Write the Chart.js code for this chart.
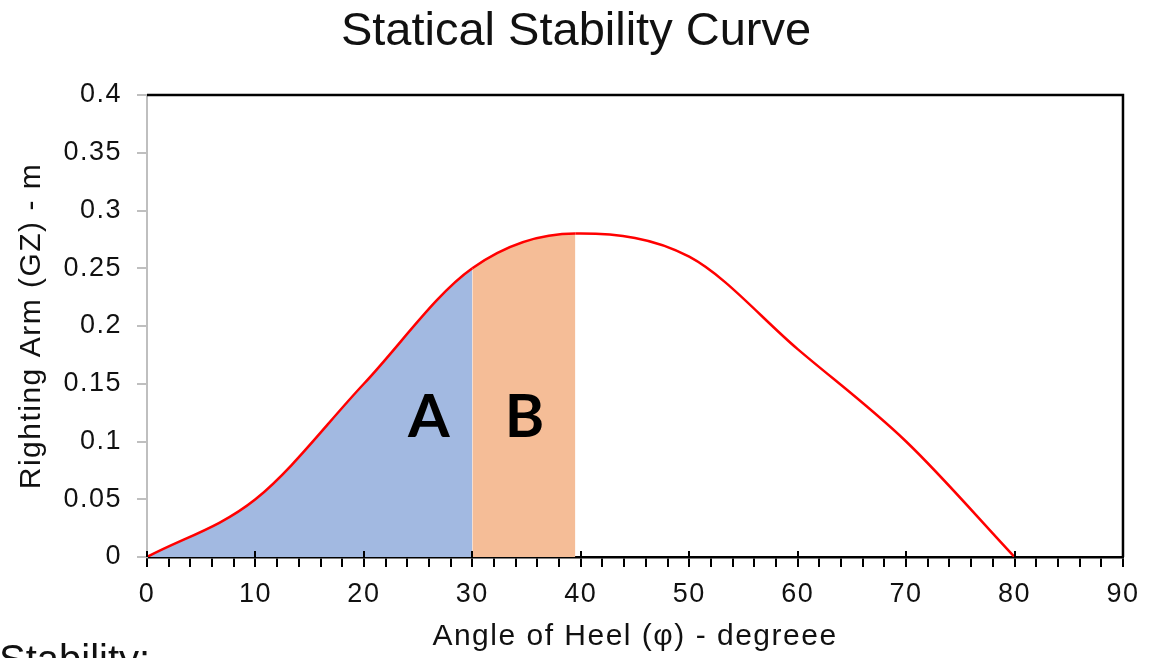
<!DOCTYPE html>
<html>
<head>
<meta charset="utf-8">
<script src="https://cdn.jsdelivr.net/npm/chart.js@4.4.1/dist/chart.umd.min.js"></script>
<style>
html, body { margin: 0; padding: 0; background: #fff; }
#stab { display: block; }
</style>
</head>
<body>
<canvas id="stab" width="1149" height="658"></canvas>
<script>
// values (39.5 is where the orange band stops)
var heelAngle   = [0, 10,   20,   30,   39.5, 40,   50,   60,   70,  80];
var rightingArm = [0, 0.05, 0.15, 0.25, 0.28, 0.28, 0.26, 0.18, 0.1, 0];

// shaded areas under the curve (degrees)
var areaA = [0, 30];
var areaB = [30, 39.5];

var xMajor = [0, 10, 20, 30, 40, 50, 60, 70, 80, 90];
var yTickLabels = ['0', '0.05', '0.1', '0.15', '0.2', '0.25', '0.3', '0.35', '0.4'];

var areaNames = ['A', 'B'];
var areaNameX = [26, 34.8];
var areaNameY = [0.104, 0.104];

var points = heelAngle.map(function (a, i) { return { x: a, y: rightingArm[i] }; });

function shade(ctx) {
    var x0 = ctx.p0.parsed.x;
    if (x0 >= areaA[0] && x0 < areaA[1]) return '#a2b9e1';
    if (x0 >= areaB[0] && x0 < areaB[1]) return '#f5bd97';
    return 'rgba(0,0,0,0)';
}

var extras = {
    id: 'extras',
    beforeDraw: function (chart) {
        // the small labels in the picture are widely spaced
        chart.ctx.letterSpacing = '1.5px';
    },
    afterDatasetsDraw: function (chart) {
        var ctx = chart.ctx, x = chart.scales.x, y = chart.scales.y;
        ctx.save();
        ctx.letterSpacing = '0px';
        ctx.fillStyle = '#000';
        ctx.font = 'bold 60px Lato';
        ctx.textAlign = 'center';
        ctx.textBaseline = 'alphabetic';
        areaNames.forEach(function (n, i) {
            ctx.fillText(n, x.getPixelForValue(areaNameX[i]), y.getPixelForValue(areaNameY[i]));
        });
        ctx.restore();
    },
    afterDraw: function (chart) {
        var ctx = chart.ctx, x = chart.scales.x, a = chart.chartArea;
        ctx.save();
        ctx.letterSpacing = '0px';
        // black frame top and right
        ctx.strokeStyle = '#000';
        ctx.lineWidth = 2.5;
        ctx.beginPath();
        ctx.moveTo(a.left, a.top);
        ctx.lineTo(a.right, a.top);
        ctx.lineTo(a.right, a.bottom);
        ctx.stroke();
        // major ticks poke up through the axis
        ctx.lineWidth = 2;
        xMajor.forEach(function (v) {
            var px = Math.round(x.getPixelForValue(v));
            ctx.beginPath();
            ctx.moveTo(px, a.bottom - 6);
            ctx.lineTo(px, a.bottom);
            ctx.stroke();
        });
        // title
        ctx.fillStyle = '#111';
        ctx.font = '47px "Liberation Sans"';
        ctx.textAlign = 'center';
        ctx.textBaseline = 'alphabetic';
        ctx.fillText('Statical Stability Curve', 576, 45);
        // cut-off caption in the corner
        ctx.textAlign = 'left';
        ctx.font = '40px "Liberation Sans"';
        ctx.fillText('Stability:', -1, 673);
        ctx.restore();
    }
};

new Chart('stab', {
    type: 'line',
    data: {
        datasets: [{
            data: points,
            borderColor: '#ff0000',
            borderWidth: 2.5,
            backgroundColor: 'rgba(0,0,0,0)',
            fill: 'origin',
            pointRadius: 0,
            cubicInterpolationMode: 'monotone',
            segment: { backgroundColor: shade }
        }]
    },
    options: {
        responsive: false,
        animation: false,
        devicePixelRatio: 1,
        layout: { padding: { left: 0, right: 21, top: 95, bottom: 0 } },
        plugins: {
            legend: { display: false },
            tooltip: { enabled: false },
            title: { display: false }
        },
        scales: {
            x: {
                type: 'linear', min: 0, max: 90, z: 1,
                afterFit: function (s) { s.height = 101; },
                border: { display: true, color: '#000', width: 2.5 },
                grid: { drawOnChartArea: false, drawTicks: true, tickLength: 10, color: '#000', lineWidth: 2 },
                ticks: {
                    stepSize: 2, autoSkip: false, maxRotation: 0, padding: 11,
                    color: '#111', font: { family: 'Liberation Sans', size: 27 },
                    callback: function (v) { return xMajor.indexOf(v) >= 0 ? String(v) : ''; }
                },
                title: {
                    display: true, text: 'Angle of Heel (φ) - degreee', color: '#111',
                    font: { family: 'Liberation Sans', size: 30 }, padding: { top: 0, bottom: 3 }
                }
            },
            y: {
                type: 'linear', min: 0, max: 0.4, z: 1,
                afterFit: function (s) { s.width = 147; },
                border: { display: true, color: '#bfbfbf', width: 2 },
                grid: { drawOnChartArea: false, drawTicks: true, tickLength: 10, color: '#bfbfbf', lineWidth: 2 },
                ticks: {
                    stepSize: 0.05, padding: 15,
                    color: '#111', font: { family: 'Liberation Sans', size: 27 },
                    callback: function (v, i) { return yTickLabels[i]; }
                },
                title: {
                    display: true, text: 'Righting Arm (GZ) - m', color: '#111',
                    font: { family: 'Liberation Sans', size: 30 }, padding: { top: 14, bottom: 0 }
                }
            }
        }
    },
    plugins: [extras]
});
</script>
</body>
</html>
